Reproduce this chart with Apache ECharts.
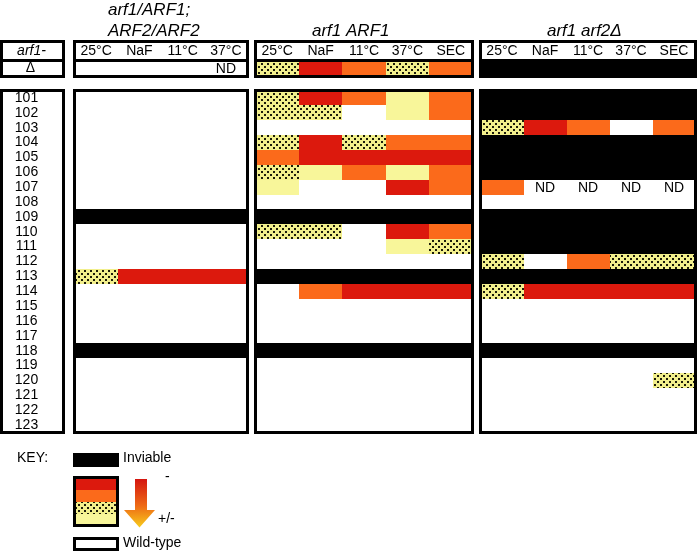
<!DOCTYPE html>
<html><head><meta charset="utf-8">
<script src="https://cdn.jsdelivr.net/npm/echarts/dist/echarts.min.js"></script>
<style>html,body{margin:0;padding:0;background:#fff}#c{width:699px;height:552px}</style>
</head><body><div id="c"></div>
<script>
// ---------- data ----------
const rowLabels = ['101','102','103','104','105','106','107','108','109','110','111','112',
  '113','114','115','116','117','118','119','120','121','122','123'];
const colsA = ['25°C','NaF','11°C','37°C'];
const colsB = ['25°C','NaF','11°C','37°C','SEC'];
const titleP1a = 'arf1/ARF1;';
const titleP1b = 'ARF2/ARF2';
const titleP2 = 'arf1 ARF1';
const titleP3 = 'arf1 arf2Δ';
// codes: W wild-type, Y light yellow (+/-), D dotted, O orange, R red (-), B inviable, N not determined
const p1Delta = 'WWWN';
const p1Body = ['WWWW','WWWW','WWWW','WWWW','WWWW','WWWW','WWWW','WWWW','BBBB','WWWW','WWWW','WWWW',
  'DRRR','WWWW','WWWW','WWWW','WWWW','BBBB','WWWW','WWWW','WWWW','WWWW','WWWW'];
const p2Delta = 'DRODO';
const p2Body = ['DROYO','DDWYO','WWWWW','DRDOO','ORRRR','DYOYO','YWWRO','WWWWW','BBBBB','DDWRO','WWWYD','WWWWW',
  'BBBBB','WORRR','WWWWW','WWWWW','WWWWW','BBBBB','WWWWW','WWWWW','WWWWW','WWWWW','WWWWW'];
const p3Delta = 'BBBBB';
const p3Body = ['BBBBB','BBBBB','DROWO','BBBBB','BBBBB','BBBBB','ONNNN','WWWWW','BBBBB','BBBBB','BBBBB','DWODD',
  'BBBBB','DRRRR','WWWWW','WWWWW','WWWWW','BBBBB','WWWWW','WWWWD','WWWWW','WWWWW','WWWWW'];
const CODES = ['W','Y','D','O','R','B','N'];

// ---------- styles ----------
const FONT = '"Liberation Sans", Arial, sans-serif';
const pc = document.createElement('canvas');
pc.width = 6; pc.height = 6;
(function(){const g = pc.getContext('2d'); g.fillStyle = '#f2ef8c'; g.fillRect(0,0,6,6);
  g.fillStyle = '#1a1a0a'; [[0,0],[3,3]].forEach(p=>g.fillRect(p[0],p[1],2,2));})();
const dotted = {image: pc, repeat: 'repeat'};
const FILL = {Y:'#f8f69a', D:dotted, O:'#fb6a1b', R:'#dc190d', B:'#000000'};

const chart = echarts.init(document.getElementById('c'), null, {renderer:'canvas'});

const grids = [], xAxes = [], yAxes = [], series = [];
function addGrid(left, width, top, height){
  grids.push({left, width, top, height, show:true, borderColor:'#000', borderWidth:3,
    backgroundColor:'#fff', containLabel:false, outerBoundsMode:'none'});
  return grids.length - 1;
}
function hiddenCat(gi, data, inverse){
  return {type:'category', gridIndex:gi, data, inverse:!!inverse,
    axisLine:{show:false}, axisTick:{show:false}, splitLine:{show:false}, axisLabel:{show:false}};
}
function render(params, api){
  const code = CODES[api.value(2)];
  if (code === 'W') return {type:'group', children:[]};
  const p = api.coord([api.value(0), api.value(1)]);
  const s = api.size([1,1]);
  const cs = params.coordSys;
  if (code === 'N') {
    return {type:'text', style:{text:'ND', x:p[0], y:p[1]+1, align:'center', verticalAlign:'middle',
      font:'14px ' + FONT, fill:'#000'}};
  }
  const x0 = Math.round(p[0]-s[0]/2), x1 = Math.round(p[0]+s[0]/2);
  const y0 = Math.round(p[1]-s[1]/2), y1 = Math.round(p[1]+s[1]/2);
  const shape = echarts.graphic.clipRectByRect(
    {x:x0, y:y0, width:x1-x0, height:y1-y0},
    {x:cs.x+1.5, y:cs.y+1.5, width:cs.width-3, height:cs.height-3});
  return {type:'rect', shape, style:{fill:FILL[code]}};
}
function addCells(gi, rows){
  const data = [];
  rows.forEach((str, r) => str.split('').forEach((ch, c) => data.push([c, r, CODES.indexOf(ch)])));
  series.push({type:'custom', coordinateSystem:'cartesian2d', xAxisIndex:gi, yAxisIndex:gi,
    renderItem:render, data, clip:false, silent:true});
}

const HT = 41.5, HH = 19, DT = 60.5, DH = 16, BT = 90.5, BH = 342;

// label column
let gi = addGrid(1.5, 62, HT, HH);
xAxes.push(hiddenCat(gi, ['a']));
yAxes.push({type:'category', gridIndex:gi, data:['arf1-'], axisLine:{show:false}, axisTick:{show:false},
  axisLabel:{inside:true, margin:30, align:'center', fontSize:14, fontStyle:'italic', fontFamily:FONT, color:'#000'}});
gi = addGrid(1.5, 62, DT, DH);
xAxes.push(hiddenCat(gi, ['a']));
yAxes.push({type:'category', gridIndex:gi, data:['Δ'], axisLine:{show:false}, axisTick:{show:false},
  axisLabel:{inside:true, margin:29, align:'center', fontSize:14, fontFamily:FONT, color:'#000'}});
gi = addGrid(1.5, 62, BT, BH);
xAxes.push(hiddenCat(gi, ['a']));
yAxes.push({type:'category', gridIndex:gi, data:rowLabels, inverse:true, axisLine:{show:false}, axisTick:{show:false},
  axisLabel:{inside:true, margin:25, align:'center', fontSize:14, fontFamily:FONT, color:'#000', interval:0}});

// panels
const panels = [
  {left:74.5, width:173, cols:colsA, delta:p1Delta, body:p1Body},
  {left:255.5, width:217, cols:colsB, delta:p2Delta, body:p2Body},
  {left:480.5, width:215, cols:colsB, delta:p3Delta, body:p3Body}
];
panels.forEach(P => {
  let g = addGrid(P.left, P.width, HT, HH);
  xAxes.push({type:'category', gridIndex:g, data:P.cols, position:'bottom', axisLine:{show:false}, axisTick:{show:false},
    axisLabel:{inside:true, margin:2, interval:0, fontSize:14, fontFamily:FONT, color:'#000'}});
  yAxes.push(hiddenCat(g, ['h']));
  g = addGrid(P.left, P.width, DT, DH);
  xAxes.push(hiddenCat(g, P.cols));
  yAxes.push(hiddenCat(g, ['Δ']));
  addCells(g, [P.delta]);
  g = addGrid(P.left, P.width, BT, BH);
  xAxes.push(hiddenCat(g, P.cols));
  yAxes.push(hiddenCat(g, rowLabels, true));
  addCells(g, P.body);
});

const tStyle = {fontSize:17, fontStyle:'italic', fontWeight:'normal', fontFamily:FONT, color:'#000'};
const titles = [
  {text:titleP1a, left:108, top:2, padding:0, textStyle:tStyle},
  {text:titleP1b, left:108, top:23, padding:0, textStyle:tStyle},
  {text:titleP2, left:312, top:23, padding:0, textStyle:tStyle},
  {text:titleP3, left:547, top:23, padding:0, textStyle:tStyle}
];

const kf = '14px ' + FONT;
const graphic = [
  {type:'text', style:{text:'KEY:', x:17, y:458, verticalAlign:'middle', font:kf, fill:'#000'}},
  {type:'rect', shape:{x:73, y:453, width:46, height:14}, style:{fill:'#000'}},
  {type:'text', style:{text:'Inviable', x:123, y:458, verticalAlign:'middle', font:kf, fill:'#000'}},
  {type:'rect', shape:{x:76, y:479, width:42, height:11}, style:{fill:FILL.R}},
  {type:'rect', shape:{x:76, y:490, width:42, height:12}, style:{fill:FILL.O}},
  {type:'rect', shape:{x:76, y:502, width:42, height:12}, style:{fill:dotted}},
  {type:'rect', shape:{x:76, y:514, width:42, height:10}, style:{fill:FILL.Y}},
  {type:'rect', shape:{x:74.5, y:477.5, width:43, height:48}, style:{fill:null, stroke:'#000', lineWidth:3}},
  {type:'polygon', shape:{points:[[135,479],[147,479],[147,510],[155,510],[139.5,527.5],[124,510],[135,510]]},
    style:{fill:new echarts.graphic.LinearGradient(0,0,0,1,[{offset:0,color:'#d4150f'},{offset:0.55,color:'#ee6a16'},{offset:1,color:'#f7cc1c'}])}},
  {type:'text', style:{text:'-', x:165, y:477, verticalAlign:'middle', font:kf, fill:'#000'}},
  {type:'text', style:{text:'+/-', x:158, y:519, verticalAlign:'middle', font:kf, fill:'#000'}},
  {type:'rect', shape:{x:74.5, y:538.5, width:43, height:11}, style:{fill:'#fff', stroke:'#000', lineWidth:3}},
  {type:'text', style:{text:'Wild-type', x:123, y:543.5, verticalAlign:'middle', font:kf, fill:'#000'}}
];

chart.setOption({
  animation:false,
  backgroundColor:'#fff',
  title:titles,
  grid:grids, xAxis:xAxes, yAxis:yAxes, series, graphic
});
</script></body></html>
